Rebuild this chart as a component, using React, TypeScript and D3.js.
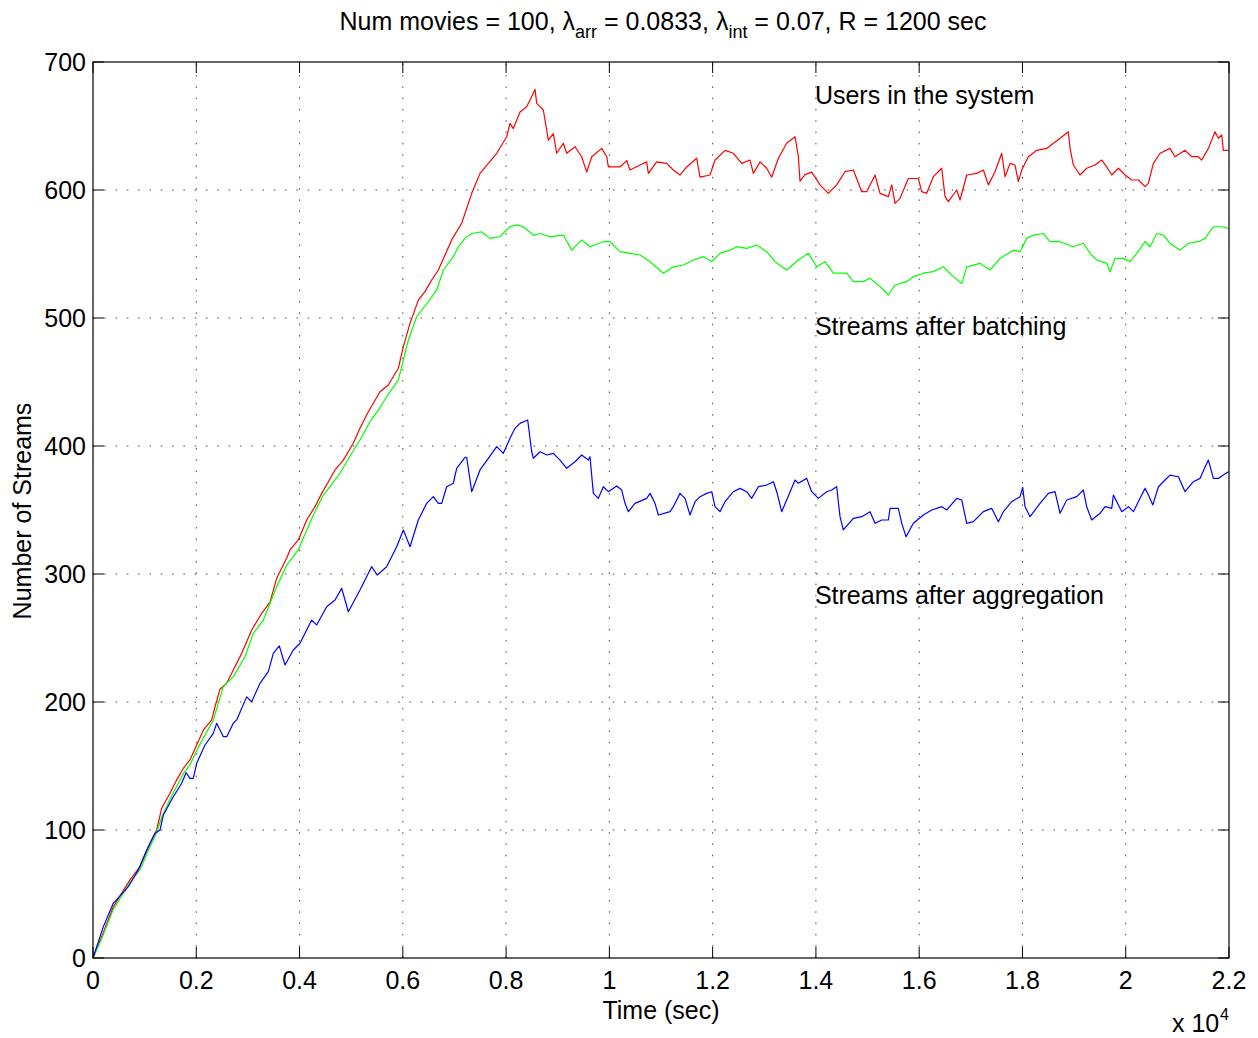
import React from "react";
import * as d3 from "d3";

// ---- data (time in seconds, value = number of streams) ----
const usersInSystem: [number, number][] = [[0,0],[168,16.6],[393,40],[716,61],[910,71.3],[1104,89.6],[1233,100],[1330,117],[1491,128.7],[1620,139],[1749,148.2],[1878,154.7],[2008,166.4],[2137,178],[2298,186],[2363,196.3],[2459,210],[2589,214.6],[2686,222.4],[2879,238],[2976,247],[3073,256.3],[3267,269.3],[3428,278],[3557,296.6],[3750,312.3],[3815,318.8],[3976,326.6],[4138,342.2],[4299,352.6],[4429,363],[4558,372.1],[4687,381.3],[4848,389],[5041,402.1],[5170,413.8],[5332,426.8],[5558,442.4],[5719,447.7],[5913,460.7],[6010,477.6],[6139,495.8],[6300,514],[6429,520.6],[6559,529.7],[6688,537.5],[6817,549.2],[6946,561],[7140,574],[7334,597.4],[7495,613],[7818,628.7],[8012,641.6],[8076,652],[8140,648],[8270,661],[8399,665],[8496,673],[8560,678.6],[8593,667.7],[8721,662.5],[8786,646.9],[8818,639],[8915,644],[8980,628.7],[9108,636.5],[9174,628.7],[9335,633.8],[9464,626],[9561,614],[9658,626],[9852,632.5],[9949,626],[9981,618],[10206,618],[10336,623],[10400,615.6],[10594,619.5],[10723,622],[10755,613],[10917,622],[11110,620.8],[11239,615.6],[11368,611.7],[11498,618],[11691,624.8],[11756,610],[11949,611.7],[12046,623.4],[12240,631],[12401,628.7],[12563,620.8],[12724,623.4],[12789,613],[12918,622],[13047,617],[13144,610],[13273,624.8],[13434,636.5],[13596,641.6],[13660,626],[13692,607],[13789,612],[13918,614],[14080,604],[14240,597.4],[14402,604],[14563,614.3],[14725,615.6],[14887,598.7],[14984,598.7],[15145,611.7],[15242,597.4],[15403,594.8],[15468,604],[15532,589.6],[15629,593.5],[15790,609],[15984,609],[16049,598.7],[16145,597.4],[16275,610.4],[16436,617],[16501,594.8],[16565,590.9],[16727,600],[16791,592.2],[16920,611.7],[17114,613],[17243,615.6],[17340,604],[17469,614.3],[17598,628.7],[17663,610.4],[17760,620.8],[17856,619.5],[17921,606.5],[17986,615.6],[18114,626],[18276,631],[18470,632.5],[18599,636.5],[18728,640.4],[18889,645.5],[18922,632.5],[18986,619.5],[19115,611.7],[19244,617],[19405,619.5],[19535,623.4],[19632,618],[19729,611.7],[19858,617],[19987,611.7],[20116,607.8],[20245,607.8],[20374,602.6],[20439,605.2],[20535,620.8],[20665,628.7],[20858,632.5],[20955,626],[21149,631],[21278,626],[21407,626],[21471,623.4],[21601,632.5],[21729,645.5],[21794,640.4],[21858,643],[21891,631],[21988,631]];

const streamsAfterBatching: [number, number][] = [[0,0],[168,15],[393,38],[716,59],[910,69],[1104,87],[1233,98],[1330,110],[1491,124],[1620,134],[1749,144],[1878,151],[2008,162],[2137,172],[2330,186],[2524,212],[2717,219.8],[2943,235.4],[3105,253.7],[3299,264],[3557,290],[3750,307],[3976,318.8],[4041,325.2],[4267,346.1],[4460,361.7],[4590,368.2],[4783,378.7],[5010,394.3],[5170,404.7],[5364,419],[5526,428.1],[5687,438.5],[5913,451.6],[6107,482.8],[6268,501],[6494,512.7],[6656,521.9],[6785,537.5],[6978,547.9],[7075,555.7],[7204,562.2],[7334,566],[7527,567.4],[7688,562.2],[7882,563.5],[8076,571.3],[8205,572.7],[8334,571.3],[8528,564.8],[8657,566],[8851,563.5],[9109,564.8],[9270,553],[9464,561],[9625,555.7],[9883,559.6],[10012,559.6],[10206,551.8],[10400,550.5],[10594,549.2],[10788,544],[11045,535],[11239,540],[11433,541.4],[11626,545.3],[11820,548],[11982,544],[12143,550.5],[12337,553],[12466,555.7],[12660,554.4],[12853,557],[13047,551.8],[13208,544],[13434,537.5],[13660,545.3],[13853,550.5],[14015,540],[14176,544],[14338,535],[14596,535],[14725,528.4],[14919,528.4],[15048,531],[15242,524.5],[15403,518],[15532,525.8],[15758,528.4],[15887,532.3],[16081,535],[16275,536.2],[16468,540],[16662,532.3],[16824,527],[16920,540],[17178,542.7],[17372,537.5],[17565,546.6],[17824,553],[17953,551.8],[18082,562.2],[18211,564.8],[18405,566],[18534,559.6],[18728,559.6],[18986,555.7],[19180,558.4],[19309,550.5],[19438,545.3],[19632,542.7],[19696,536.2],[19793,546.6],[19955,546.6],[20084,544],[20213,550.5],[20374,559.6],[20471,555.7],[20600,566],[20729,564.8],[20858,558.4],[21052,553],[21213,558.4],[21407,559.6],[21536,562.2],[21697,571.3],[21858,571.3],[21988,570]];

const streamsAfterAggregation: [number, number][] = [[0,0],[200,24.5],[393,42.7],[684,55.7],[877,68.8],[1040,84.4],[1201,97.4],[1298,100],[1362,111.7],[1555,126],[1718,136.5],[1801,144.8],[1879,140.4],[1942,140.4],[2008,152.1],[2169,166.4],[2330,175.5],[2395,183.4],[2524,172.9],[2589,172.9],[2717,183.4],[2782,186],[2976,204],[3073,200.2],[3234,214.6],[3395,223.7],[3492,238],[3608,243.8],[3718,228.9],[3879,240.6],[4009,245.9],[4235,264],[4332,260.2],[4525,274.4],[4687,279.7],[4816,288.8],[4945,270.5],[5170,287.5],[5396,305.7],[5505,299.2],[5687,305.7],[5881,321.3],[6010,334.4],[6139,321.3],[6300,342.2],[6462,355.2],[6591,360.4],[6688,355.2],[6753,355.2],[6849,368.2],[6978,370.9],[7043,382.6],[7204,391.2],[7237,391.2],[7334,364.3],[7495,381.3],[7656,390.4],[7818,399.5],[7946,394.3],[8076,406],[8172,413.8],[8270,417.7],[8418,420.3],[8496,395.5],[8528,390.4],[8657,395.5],[8786,393],[8915,394.3],[9044,389],[9173,382.6],[9335,387.7],[9464,393],[9593,389],[9625,391.6],[9690,363],[9787,359.1],[9883,368.2],[9981,364.3],[10142,368.8],[10239,365.6],[10303,355.2],[10368,348.7],[10497,355.2],[10723,359.1],[10788,363],[10884,355.2],[10949,346.1],[11175,348.7],[11239,352.6],[11368,363],[11465,359.1],[11562,346.1],[11659,356.5],[11756,360.4],[11885,363],[11982,364.3],[12046,352.6],[12143,348.7],[12240,356.5],[12401,364.3],[12530,366.9],[12660,364.3],[12756,359.1],[12885,368.2],[13047,369.5],[13176,372.1],[13241,364.3],[13338,348.7],[13434,357.8],[13596,373.4],[13660,370.9],[13821,374.7],[13918,364.3],[14047,359.1],[14209,364.3],[14305,365.6],[14402,368.2],[14467,344.8],[14531,334.4],[14725,343.5],[14887,344.8],[15048,348.7],[15145,339.6],[15274,342.2],[15403,342.2],[15436,351.3],[15597,351.3],[15662,339.6],[15746,329.1],[15887,339.6],[16081,346.1],[16243,350],[16436,352.6],[16533,350],[16727,359.1],[16824,357.8],[16920,339.6],[17049,340.9],[17243,348.7],[17404,351.3],[17533,340.9],[17630,348.7],[17791,356.5],[17953,360.4],[18005,367.7],[18050,352.6],[18147,344.8],[18340,355.2],[18502,363],[18631,364.3],[18728,347.4],[18857,357.8],[19051,360.4],[19180,365.6],[19244,352.6],[19341,342.2],[19502,347.4],[19599,352.6],[19729,351.3],[19761,361.7],[19923,348.7],[20052,352.6],[20149,348.7],[20278,359.1],[20374,366.9],[20439,361.7],[20525,354],[20633,368.2],[20762,373.4],[20858,377.3],[21020,376],[21149,364.3],[21310,372.1],[21439,374.7],[21536,383.6],[21601,389],[21697,374.7],[21794,374.7],[21891,377.3],[21988,379.9]];

const xTickValues = [0, 0.2, 0.4, 0.6, 0.8, 1, 1.2, 1.4, 1.6, 1.8, 2, 2.2]; // x 10^4 sec
const xTickLabels = ["0", "0.2", "0.4", "0.6", "0.8", "1", "1.2", "1.4", "1.6", "1.8", "2", "2.2"];
const yTickValues = [0, 100, 200, 300, 400, 500, 600, 700];

const seriesLabels = ["Users in the system", "Streams after batching", "Streams after aggregation"];
const seriesColors = ["#ff0000", "#00ff00", "#0000ff"];

const W = 1258, H = 1038;
const M = { left: 93, right: 1229, top: 62, bottom: 958 };
const FONT = "'Liberation Sans', Arial, Helvetica, sans-serif";

export default function App() {
  const x = d3.scaleLinear().domain([0, 22000]).range([M.left, M.right]);
  const y = d3.scaleLinear().domain([0, 700]).range([M.bottom, M.top]);
  const line = d3.line<[number, number]>().x(d => x(d[0])).y(d => y(d[1]));
  const series = [usersInSystem, streamsAfterBatching, streamsAfterAggregation];
  const tickLen = 11;
  const fs = 25;
  const labelY = [104, 335, 604];

  return (
    <svg width={W} height={H} style={{ position: "absolute", left: 0, top: 0, background: "#fff" }} fontFamily={FONT}>
      <rect x={0} y={0} width={W} height={H} fill="#fff" />
      {/* grid */}
      <g stroke="#444" strokeWidth={1} strokeDasharray="1.5,9.8">
        {xTickValues.slice(1, -1).map((v, i) => (
          <line key={"gx" + i} x1={x(v * 10000)} x2={x(v * 10000)} y1={M.bottom} y2={M.top} />
        ))}
        {yTickValues.slice(1, -1).map((v, i) => (
          <line key={"gy" + i} x1={M.left} x2={M.right} y1={y(v)} y2={y(v)} />
        ))}
      </g>
      {/* series */}
      {series.map((s, i) => (
        <path key={"s" + i} d={line(s) || ""} fill="none" stroke={seriesColors[i]} strokeWidth={1.2} strokeLinejoin="round" />
      ))}
      {/* box */}
      <rect x={M.left} y={M.top} width={M.right - M.left} height={M.bottom - M.top} fill="none" stroke="#000" strokeWidth={1.2} />
      {/* ticks */}
      <g stroke="#000" strokeWidth={1}>
        {xTickValues.map((v, i) => (
          <g key={"tx" + i}>
            <line x1={x(v * 10000)} x2={x(v * 10000)} y1={M.bottom} y2={M.bottom - tickLen} />
            <line x1={x(v * 10000)} x2={x(v * 10000)} y1={M.top} y2={M.top + tickLen} />
          </g>
        ))}
        {yTickValues.map((v, i) => (
          <g key={"ty" + i}>
            <line x1={M.left} x2={M.left + tickLen} y1={y(v)} y2={y(v)} />
            <line x1={M.right} x2={M.right - tickLen} y1={y(v)} y2={y(v)} />
          </g>
        ))}
      </g>
      {/* tick labels */}
      <g fontSize={fs} fill="#000">
        {xTickValues.map((v, i) => (
          <text key={"lx" + i} x={x(v * 10000)} y={989} textAnchor="middle">{xTickLabels[i]}</text>
        ))}
        {yTickValues.map((v, i) => (
          <text key={"ly" + i} x={86} y={y(v) + 9} textAnchor="end">{v}</text>
        ))}
      </g>
      {/* exponent */}
      <text x={1172} y={1032} fontSize={fs} fill="#000">x 10</text>
      <text x={1220} y={1020} fontSize={16} fill="#000">4</text>
      {/* axis labels */}
      <text x={(M.left + M.right) / 2} y={1019} fontSize={fs} textAnchor="middle" fill="#000">Time (sec)</text>
      <text transform={`translate(31, ${(M.top + M.bottom) / 2 + 1}) rotate(-90)`} fontSize={fs} textAnchor="middle" fill="#000">Number of Streams</text>
      {/* title */}
      <text x={(M.left + M.right) / 2 + 2} y={30} fontSize={fs} textAnchor="middle" fill="#000">
        <tspan>Num movies = 100, λ</tspan>
        <tspan fontSize={18} dy={8}>arr</tspan>
        <tspan dy={-8}> = 0.0833, λ</tspan>
        <tspan fontSize={18} dy={8}>int</tspan>
        <tspan dy={-8}> = 0.07, R = 1200 sec</tspan>
      </text>
      {/* annotations */}
      {seriesLabels.map((t, i) => (
        <text key={"an" + i} x={x(14000) - 1} y={labelY[i]} fontSize={fs} fill="#000">{t}</text>
      ))}
    </svg>
  );
}
